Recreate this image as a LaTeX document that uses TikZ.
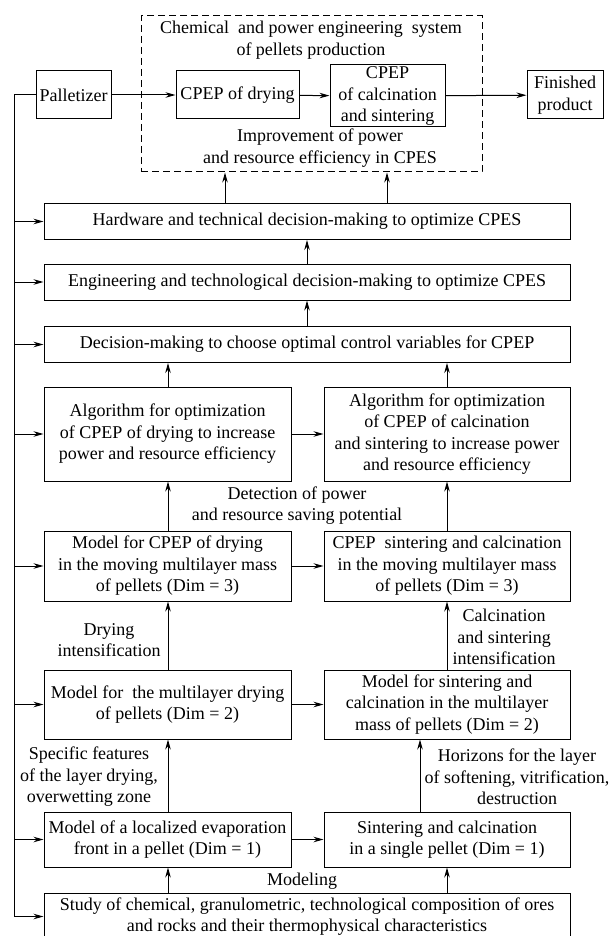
\documentclass[tikz,border=0pt]{standalone}
\usepackage{fontspec}
\setmainfont{Liberation Serif}
\usetikzlibrary{arrows.meta}
\newcommand\myfont{\fontsize{18}{21.5}\selectfont}
\begin{document}
\begin{tikzpicture}[x=1pt,y=-1pt,
  box/.style={draw, line width=1pt, inner sep=0pt, align=center, font=\myfont},
  lbl/.style={inner sep=0pt, align=center, font=\myfont},
  arr/.style={line width=1pt, -{Stealth[length=10pt,width=5.5pt]}},
  ln/.style={line width=1pt}]
\useasboundingbox (0,0) rectangle (610,936);
% x positions of vertical connectors
\coordinate (xa) at (225,0);
\coordinate (xb) at (387,0);
\coordinate (xc) at (307,0);
\coordinate (xl) at (168,0);
\coordinate (xr) at (447,0);
\coordinate (xs) at (420,0);
\coordinate (xf) at (14,0);
% system box
\node[draw, dash pattern=on 7pt off 4pt, line width=1pt, minimum width=341pt, minimum height=156pt, inner sep=0pt] (sys) at (311.5,94) {};
\node[lbl] (systitle) at (311,40) {Chemical~ and power engineering~ system\\of pellets production};
\node[lbl] (improve) at (320,148) {Improvement of power\\and resource efficiency in CPES};
% top row
\node[box, minimum width=75pt, minimum height=48pt] (pal) at (73.5,95) {Palletizer};
\node[box, minimum width=123pt, minimum height=48pt] (dry) at (237.5,95) {CPEP of drying};
\node[box, minimum width=115pt, minimum height=62pt] (calc) at (387.5,96) {CPEP\\of calcination\\and sintering};
\node[box, minimum width=76pt, minimum height=48pt] (fin) at (565,95) {Finished\\product};
% wide boxes
\node[box, minimum width=526pt, minimum height=36pt] (hw) at (307,221.5) {Hardware and technical decision-making to optimize CPES};
\node[box, minimum width=526pt, minimum height=36pt] (eng) at (307,282) {Engineering and technological decision-making to optimize CPES};
\node[box, minimum width=526pt, minimum height=36pt] (dec) at (307,344.5) {Decision-making to choose optimal control variables for CPEP};
% algorithm boxes
\node[box, minimum width=247pt, minimum height=94pt] (algL) at (167.5,434) {Algorithm for optimization\\of CPEP of drying to increase\\power and resource efficiency};
\node[box, minimum width=246pt, minimum height=94pt] (algR) at (447,434) {Algorithm for optimization\\of CPEP of calcination\\and sintering to increase power\\and resource efficiency};
\node[lbl] (detect) at (297,505.5) {Detection of power\\and resource saving potential};
% dim 3
\node[box, minimum width=247pt, minimum height=70pt] (m3L) at (167.5,566) {Model for CPEP of drying\\in the moving multilayer mass\\of pellets (Dim = 3)};
\node[box, minimum width=246pt, minimum height=70pt] (m3R) at (447,566) {CPEP~ sintering and calcination\\in the moving multilayer mass\\of pellets (Dim = 3)};
\node[lbl] (dryint) at (109,640) {Drying\\intensification};
\node[lbl] (calcint) at (504,637) {Calcination\\and sintering\\intensification};
% dim 2
\node[box, minimum width=247pt, minimum height=69pt] (m2L) at (167.5,704.5) {Model for~ the multilayer drying\\of pellets (Dim = 2)};
\node[box, minimum width=246pt, minimum height=69pt] (m2R) at (447,704.5) {Model for sintering and\\calcination in the multilayer\\mass of pellets (Dim = 2)};
\node[lbl] (spec) at (89,777) {Specific features\\of the layer drying,\\overwetting zone};
\node[lbl] (horiz) at (517,777) {Horizons for the layer\\of softening, vitrification,\\destruction};
% dim 1
\node[box, minimum width=247pt, minimum height=55pt] (m1L) at (167.5,839.5) {Model of a localized evaporation\\front in a pellet (Dim = 1)};
\node[box, minimum width=246pt, minimum height=55pt] (m1R) at (447,839.5) {Sintering and calcination\\in a single pellet (Dim = 1)};
\node[lbl] (model) at (302,881) {Modeling};
\node[box, minimum width=526pt, minimum height=47pt] (study) at (307,916.5) {Study of chemical, granulometric, technological composition of ores\\and rocks and their thermophysical characteristics};
% horizontal flow
\draw[arr] (pal) -- (dry);
\draw[arr] (dry) -- (calc);
\draw[arr] (calc) -- (fin);
\draw[arr] (algL) -- (algR);
\draw[arr] (m3L) -- (m3R);
\draw[arr] (m2L) -- (m2R);
\draw[arr] (m1L) -- (m1R);
% vertical flow
\draw[arr] (xa |- hw.north) -- (xa |- sys.south);
\draw[arr] (xb |- hw.north) -- (xb |- sys.south);
\draw[arr] (xc |- eng.north) -- (xc |- hw.south);
\draw[arr] (xc |- dec.north) -- (xc |- eng.south);
\draw[arr] (xl |- algL.north) -- (xl |- dec.south);
\draw[arr] (xr |- algR.north) -- (xr |- dec.south);
\draw[arr] (xl |- m3L.north) -- (xl |- algL.south);
\draw[arr] (xr |- m3R.north) -- (xr |- algR.south);
\draw[arr] (xl |- m2L.north) -- (xl |- m3L.south);
\draw[arr] (xr |- m2R.north) -- (xr |- m3R.south);
\draw[arr] (xl |- m1L.north) -- (xl |- m2L.south);
\draw[arr] (xs |- m1R.north) -- (xs |- m2R.south);
\draw[arr] (xl |- study.north) -- (xl |- m1L.south);
\draw[arr] (xr |- study.north) -- (xr |- m1R.south);
% feedback line
\draw[ln] (pal.west) -- (xf |- pal.west) -- (xf |- study.west);
\foreach \n in {hw,eng,dec,algL,m3L,m2L,m1L,study}
  \draw[arr] (xf |- \n.west) -- (\n.west);
\end{tikzpicture}
\end{document}
